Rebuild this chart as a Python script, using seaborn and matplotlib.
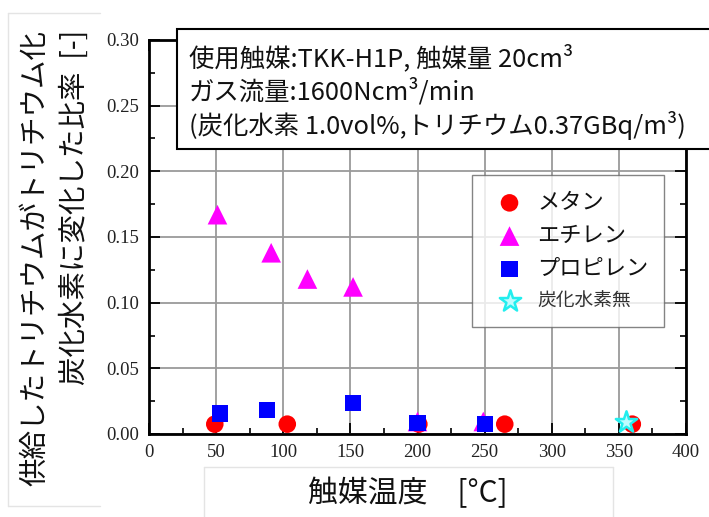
import numpy as np
import pandas as pd
import matplotlib
matplotlib.use("Agg")
import matplotlib.pyplot as plt
import seaborn as sns
from matplotlib.patches import Rectangle
from matplotlib.lines import Line2D
from matplotlib.ticker import AutoMinorLocator

# data
methane_x = [49, 103, 201, 265, 360]
methane_y = [0.0075, 0.0075, 0.0075, 0.0075, 0.0075]
ethylene_x = [51, 91, 118, 152, 200, 249]
ethylene_y = [0.167, 0.138, 0.118, 0.112, 0.0095, 0.0095]
propylene_x = [53, 88, 152, 200, 250]
propylene_y = [0.0156, 0.018, 0.0238, 0.0082, 0.0077]
none_x = [355]
none_y = [0.009]

labels = ["メタン", "エチレン", "プロピレン", "炭化水素無"]
x_ticks = [0, 50, 100, 150, 200, 250, 300, 350, 400]
y_ticks = [0.00, 0.05, 0.10, 0.15, 0.20, 0.25, 0.30]

sns.set_style("ticks")
plt.rcParams["font.family"] = ["Noto Sans CJK JP", "DejaVu Sans"]

W, H = 709, 517
fig = plt.figure(figsize=(W / 100, H / 100), dpi=100)
ax = fig.add_axes([149 / W, 1 - 434 / H, 537 / W, 394 / H])

# one scatter per series, in the original drawing order
sns.scatterplot(x=methane_x, y=methane_y, ax=ax, marker="o", s=160,
                color="#ff0000", edgecolor="none", label=labels[0], zorder=3)
sns.scatterplot(x=ethylene_x, y=ethylene_y, ax=ax, marker="^", s=200,
                color="#ff00ff", edgecolor="none", label=labels[1], zorder=4)
sns.scatterplot(x=propylene_x, y=propylene_y, ax=ax, marker="s", s=135,
                color="#0000ff", edgecolor="none", label=labels[2], zorder=5)
sns.scatterplot(x=none_x, y=none_y, ax=ax, marker="*", s=260,
                facecolor="#bffcff", edgecolor="#22eeee", linewidth=1.8,
                label=labels[3], zorder=6)

ax.set_xlim(0, 400)
ax.set_ylim(0, 0.30)
ax.set_xticks(x_ticks)
ax.set_yticks(y_ticks)
ax.set_xticklabels([str(v) for v in x_ticks])
ax.set_yticklabels([f"{v:.2f}" for v in y_ticks])
ax.xaxis.set_minor_locator(AutoMinorLocator(2))
ax.yaxis.set_minor_locator(AutoMinorLocator(2))
ax.set_xlabel("")
ax.set_ylabel("")
ax.grid(True, which="major", color="#9a9a9a", linewidth=1.3, zorder=0)
ax.set_axisbelow(True)

ax.tick_params(which="both", direction="in", top=True, right=True,
               colors="black", labelcolor="#222222", pad=7)
ax.tick_params(which="major", length=8, width=1.3, labelsize=13.5)
ax.tick_params(which="minor", length=4.5, width=1.2)
for lab in ax.get_xticklabels() + ax.get_yticklabels():
    lab.set_family("Liberation Serif")
for sp in ax.spines.values():
    sp.set_linewidth(2)
    sp.set_color("black")

# legend
leg = ax.legend(loc="upper left", bbox_to_anchor=(0.601, 0.657),
                frameon=True, fancybox=False, edgecolor="#666666",
                fontsize=16, borderpad=0.7, labelspacing=0.46,
                handletextpad=0.25, handlelength=2.0, borderaxespad=0)
leg.get_frame().set_linewidth(1.0)
leg.set_zorder(10)
texts = leg.get_texts()
for t in texts[:3]:
    t.set_color("#111111")
texts[3].set_fontsize(13.5)
texts[3].set_color("#333333")

# condition box at the top
box = Rectangle((177 / W, 1 - 149 / H), (720 - 177) / W, 120 / H,
                transform=fig.transFigure, facecolor="white",
                edgecolor="black", linewidth=1.5, zorder=20)
fig.add_artist(box)
cond_lines = ["使用触媒:TKK-H1P, 触媒量 20cm³",
              "ガス流量:1600Ncm³/min",
              "(炭化水素 1.0vol%,トリチウム0.37GBq/m³)"]
for i, line in enumerate(cond_lines):
    fig.text(189 / W, 1 - (58 + 33.5 * i) / H, line, fontsize=18.3,
             ha="left", va="center", zorder=21, color="#111111")

# faint text-box borders from the slide
faint = "#e4e4e4"
fig.add_artist(Line2D([8 / W, 100 / W], [1 - 13 / H, 1 - 13 / H], color=faint, lw=1))
fig.add_artist(Line2D([8 / W, 8 / W], [1 - 13 / H, 1 - 506 / H], color=faint, lw=1))
fig.add_artist(Line2D([8 / W, 100 / W], [1 - 506 / H, 1 - 506 / H], color=faint, lw=1))
fig.add_artist(Line2D([204 / W, 613 / W], [1 - 467 / H, 1 - 467 / H], color=faint, lw=1))
fig.add_artist(Line2D([204 / W, 204 / W], [1 - 467 / H, 0], color=faint, lw=1))
fig.add_artist(Line2D([613 / W, 613 / W], [1 - 467 / H, 0], color=faint, lw=1))

# axis titles
fig.text(55 / W, 1 - 258 / H,
         "供給したトリチウムがトリチウム化\n炭化水素に変化した比率  [-]",
         rotation=90, ha="center", va="center", multialignment="right",
         fontsize=20.5, linespacing=1.38, color="#111111")
fig.text(408 / W, 1 - 493 / H, "触媒温度　[°C]", ha="center", va="center",
         fontsize=21.5, color="#111111")

plt.savefig("out.png", dpi=100)
